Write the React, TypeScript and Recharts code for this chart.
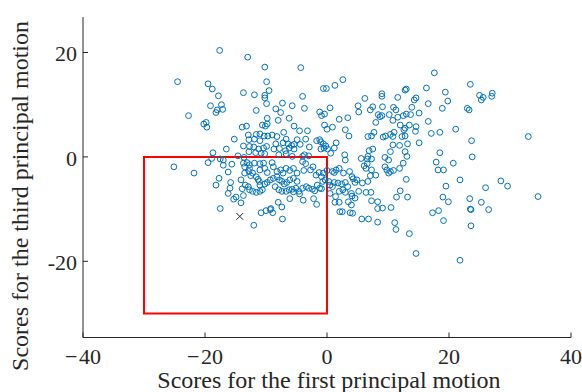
import React from 'react';
import { ScatterChart, Scatter, XAxis, YAxis, ReferenceArea, Label } from 'recharts';

const FONT = '"Liberation Serif", "Times New Roman", Times, serif';
const AXIS_COLOR = '#262626';
const POINT_COLOR = '#0072BD';

// Tick values and labels
const xTicks = [-40, -20, 0, 20, 40];
const xTickLabels = ['\u2212\u200A40', '\u2212\u200A20', '0', '20', '40'];
const yTicks = [-20, 0, 20];
const yTickLabels = ['-20', '0', '20'];

const xTitle = 'Scores for the first principal motion';
const yTitle = 'Scores for the third principal motion';

// Scores (upper half of the cloud)
const upperFirst = [
  -17.6, -13.0, -10.2, -4.3, 17.6, -24.5, -9.9, 2.6, 23.5, -19.5,
  -18.8, -9.5, -0.6, -0.1, 1.3, 16.3, 12.8, 13.0, -13.7, 19.4,
  9.0, 9.0, 27.1, 27.0, 25.0, 25.6, 25.3, -17.8, -11.9, -10.2,
  -10.2, -4.0, 6.2, 11.6, 14.3, 14.6, 19.8, 16.6, -17.3, -19.1,
  -17.1, -18.2, -18.0, -9.9, -7.3, -5.7, -8.4, -11.6, -3.7, 0.5,
  5.1, 5.2, 7.5, 7.1, 9.1, 10.9, 11.3, 18.9, 23.0, 23.3,
  13.9, -7.6, -1.2, -0.9, -0.4, -22.7, 8.4, 8.7, 9.0, 10.2,
  11.6, 12.5, 13.0, 13.7, 15.1, 10.8, -9.8, -6.2, 2.0, 3.4,
  16.6, 8.0, -8.0, -20.2, -19.8, -19.7, -10.6, -10.1, -9.8, -5.4,
  -0.4, 0.9, 0.0, 12.0, 13.5, 14.6, 12.8, -13.9, -13.2, 21.1,
  -7.1, 7.7, 18.5, 17.1, 11.0, 12.6, -4.5, -3.2, 3.0, 33.0,
  -12.9, -11.6, -11.0, -9.7, -8.2, -9.0, -10.3, 14.5, 3.6, 7.3,
  6.7, 9.2, 9.6, 10.4, 10.8, 12.8, 12.3, -15.2, -12.8, -11.9,
  -11.0, -6.7, -4.9, -3.5, -1.7, -1.2, -1.0, 1.5, 23.7, 15.1,
  13.2, -0.6, -0.2, -8.4, -7.2, -6.4, -5.8, -5.4, -4.4, -13.7,
  -12.7, -12.0, -11.2, -10.4, -9.9, -16.5, -8.7, -7.8, -6.8, -6.2,
  -5.4, -2.9, -1.0, -0.5, 0.1, 1.2, 10.8, 11.9, 7.5, 6.9,
  -12.8, -11.7, -10.8, -10.2, -18.7, 18.5, 10.4, 12.8, 0.6, 2.9,
  -7.9, -6.7, -5.7, -4.0, -3.7, -3.0, -14.6, -13.6, -17.0, -18.9,
  3.0, 5.6, 6.7, 6.6, 9.5, 10.1, 13.1, 23.8,
];
const upperThird = [
  20.4, 19.1, 17.2, 17.1, 16.1, 14.4, 14.4, 14.8, 13.9, 14.0,
  13.0, 12.7, 13.1, 13.1, 13.7, 13.2, 12.8, 13.0, 12.3, 12.4,
  12.1, 11.6, 12.2, 11.6, 11.8, 11.4, 10.9, 11.7, 11.9, 11.8,
  11.3, 11.6, 11.2, 11.4, 10.9, 11.3, 10.7, 10.2, 10.0, 9.8,
  9.1, 8.5, 9.0, 10.2, 10.3, 9.8, 9.2, 8.9, 9.3, 9.4,
  9.8, 8.6, 9.6, 9.0, 9.6, 9.5, 9.0, 9.3, 9.3, 9.0,
  9.5, 8.5, 8.6, 7.9, 8.2, 7.9, 8.1, 7.7, 7.9, 8.1,
  7.6, 7.9, 8.2, 8.1, 8.4, 7.0, 7.4, 7.4, 7.2, 7.5,
  6.8, 6.6, 7.0, 6.3, 6.6, 5.7, 6.1, 5.9, 6.3, 5.9,
  6.1, 5.7, 5.3, 6.1, 6.1, 5.8, 5.5, 5.7, 5.9, 5.3,
  4.7, 4.7, 4.7, 4.5, 4.7, 5.2, 5.0, 5.0, 5.2, 3.9,
  4.2, 4.3, 4.4, 4.0, 3.9, 4.2, 4.0, 4.9, 4.0, 4.0,
  3.9, 3.8, 4.0, 4.3, 3.9, 4.0, 3.9, 3.4, 3.3, 3.4,
  3.1, 3.4, 3.3, 3.4, 3.1, 3.3, 2.9, 2.7, 3.1, 2.7,
  2.5, 2.5, 2.1, 2.5, 2.7, 2.5, 2.2, 2.4, 2.4, 2.1,
  2.0, 1.9, 1.5, 1.7, 2.0, 1.5, 1.5, 1.6, 1.2, 1.7,
  1.5, 1.9, 1.5, 1.7, 1.5, 1.7, 2.3, 2.2, 1.5, 1.2,
  1.0, 0.8, 0.7, 0.6, 0.8, 0.8, 1.0, 1.0, 0.7, 0.4,
  0.4, 0.6, 0.1, 0.1, 0.4, 0.2, 0.2, -0.1, -0.6, -0.3,
  -0.6, -0.3, 0.1, -0.4, -0.1, -0.6, 0.1, 0.0,
];

// Scores (lower half of the cloud)
const lowerFirst = [
  -25.1, -21.8, -19.5, -17.5, -17.0, -15.6, -16.2, -18.2, -17.7, -15.8,
  -15.9, -16.2, -15.3, -14.9, -14.1, -17.5, -13.7, -13.9, -14.1, -13.5,
  -12.8, -12.5, -12.2, -11.6, -11.3, -11.1, -13.4, -12.9, -12.7, -12.2,
  -11.6, -11.0, -10.6, -11.0, -10.2, -9.8, -9.3, -8.8, -8.2, -7.8,
  -7.4, -7.0, -6.6, -6.1, -5.5, -4.9, -8.5, -7.9, -7.4, -6.7,
  -6.2, -5.7, -5.1, -4.6, -4.0, -3.4, -3.0, -2.4, -2.0, -1.6,
  -1.2, -0.7, -0.3, -0.6, 0.3, 0.5, -8.0, -7.4, -9.2, -9.3,
  -8.9, -10.8, -10.0, -7.3, -12.0, -6.1, -3.9, -2.2, -1.7, 2.0,
  2.6, 3.0, 4.0, 4.1, 4.6, 3.5, 4.0, 1.3, 2.0, 2.1,
  2.5, 3.8, 4.2, 5.7, 6.8, 8.3, 11.1, 11.3, 13.5, 14.6,
  21.8, 5.2, 6.4, 7.2, 7.3, 8.3, 8.3, 9.1, 10.5, 5.8,
  6.7, 7.1, 7.3, 8.0, 9.8, 10.1, 10.4, 10.9, 11.9, 12.5,
  13.0, 12.0, 11.4, 13.2, 17.3, 18.3, 19.1, 19.0, 19.9, 23.4,
  23.5, 23.6, 23.6, 25.3, 26.5, 34.6, 19.5, 21.8, 26.0, 28.5,
  29.6, 18.2, 19.1, 17.9, 20.7, 0.0, 0.9, 1.5, 1.2, 2.0,
  2.7, 3.7, 4.1, 4.3, 4.9, 4.6, 1.2, 1.8, 2.4, 3.0,
  3.4, 0.9, 0.5, 1.4, 6.4, 6.6, 6.1, 7.3, 9.5, -9.0,
  -8.8, -7.6, -8.2, -9.8, -7.2, -5.5, -4.0, -3.5, -3.8, -6.7,
  -6.1, -4.9, -1.8, -1.3, -0.9, -2.7, -2.3, -10.4, -10.2, -11.0,
  -13.7, -13.1, -12.7, -13.5, -12.7, -11.9, -11.0, -5.5, -4.5, -0.9,
];
const lowerThird = [
  -1.9, -3.1, -1.1, -0.4, -1.6, -1.4, -2.9, -5.4, -4.1, -4.9,
  -6.0, -7.0, -8.1, -7.7, -8.8, -9.9, -7.4, -6.1, -4.4, -3.1,
  -2.8, -3.6, -3.1, -3.8, -4.3, -4.7, -5.4, -5.7, -6.3, -6.6,
  -6.8, -6.6, -6.3, -5.4, -5.2, -4.9, -4.4, -4.1, -3.8, -4.4,
  -4.7, -5.2, -4.9, -4.4, -4.1, -4.7, -5.7, -6.3, -6.6, -6.6,
  -6.3, -6.2, -6.0, -6.6, -6.0, -5.7, -6.0, -6.2, -6.5, -5.4,
  -6.0, -4.7, -4.4, -3.1, -4.7, -5.4, -8.7, -9.6, -9.9, -10.1,
  -10.7, -10.7, -10.3, -11.9, -13.1, -8.0, -8.3, -8.0, -9.1, -6.6,
  -6.3, -6.8, -7.0, -7.5, -7.9, -8.6, -9.2, -8.7, -8.7, -10.5,
  -10.5, -10.7, -10.8, -11.9, -11.9, -12.5, -12.6, -13.9, -14.7, -18.5,
  -19.8, -6.6, -6.8, -6.8, -8.4, -8.6, -9.9, -9.8, -9.7, -5.0,
  -4.7, -3.6, -2.5, -3.5, -2.5, -3.1, -2.8, -2.6, -2.2, -1.2,
  -4.3, -6.5, -7.7, -7.7, -10.7, -10.3, -12.2, -7.7, -8.6, -8.0,
  -10.0, -10.1, -13.2, -8.7, -10.1, -7.6, -5.6, -4.4, -5.9, -4.6,
  -5.6, -2.5, -2.5, -1.0, -1.2, -2.6, -2.8, -2.5, -3.0, -2.2,
  -3.1, -2.8, -3.8, -4.2, -4.4, -4.9, -4.9, -5.0, -5.2, -4.9,
  -5.7, -5.7, -7.0, -7.6, -2.2, -1.3, -1.7, -0.4, -1.9, -1.1,
  -1.9, -2.5, -2.8, -3.0, -3.1, -2.2, -0.9, -1.3, -2.6, -2.2,
  -2.6, -3.1, -3.5, -3.0, -3.8, -2.5, -1.9, -1.2, -2.2, -2.5,
  -1.2, -1.1, -1.5, -1.9, -2.2, -1.2, -1.3, -6.7, -7.1, -6.1,
];

// Highlighted sample (black cross)
const markFirst = [-14.3];
const markThird = [-11.4];

// Red box corners
const boxFirst = [-30, 0];
const boxThird = [-30, 0];

const zip = (xs: number[], ys: number[]) => xs.map((x, i) => ({ x, y: ys[i] }));
const scores = [...zip(upperFirst, upperThird), ...zip(lowerFirst, lowerThird)];
const marks = zip(markFirst, markThird);

const Circle = (p: any) => (
  <circle cx={p.cx} cy={p.cy} r={2.9} fill="none" stroke={POINT_COLOR} strokeWidth={1} />
);

const Cross = (p: any) => {
  const s = 3.3;
  return (
    <path
      d={`M${p.cx - s},${p.cy - s}L${p.cx + s},${p.cy + s}M${p.cx + s},${p.cy - s}L${p.cx - s},${p.cy + s}`}
      stroke="#222"
      strokeWidth={1}
      fill="none"
    />
  );
};

const XTick = (props: any) => {
  const { x, y, payload } = props;
  const i = xTicks.indexOf(payload.value);
  return (
    <g>
      <line x1={x} y1={y} x2={x} y2={y - 5} stroke={AXIS_COLOR} strokeWidth={1} />
      <text x={x} y={y + 26} textAnchor="middle" fontSize={22} fontFamily={FONT} fill={AXIS_COLOR}>
        {i >= 0 ? xTickLabels[i] : String(payload.value)}
      </text>
    </g>
  );
};

const YTick = (props: any) => {
  const { x, y, payload } = props;
  const i = yTicks.indexOf(payload.value);
  return (
    <g>
      <line x1={x} y1={y} x2={x + 5} y2={y} stroke={AXIS_COLOR} strokeWidth={1} />
      <text x={x - 6} y={y + 9} textAnchor="end" fontSize={22} fontFamily={FONT} fill={AXIS_COLOR}>
        {i >= 0 ? yTickLabels[i] : String(payload.value)}
      </text>
    </g>
  );
};

export default function App() {
  return (
    <div style={{ position: 'absolute', left: 0, top: 0, width: 582, height: 392, background: '#fff' }}>
      <ScatterChart width={582} height={392} margin={{ top: 17, right: 11, bottom: 0, left: 0 }}>
        <XAxis
          type="number"
          dataKey="x"
          domain={[-40, 40]}
          ticks={xTicks}
          allowDataOverflow
          height={54.5}
          tickSize={0}
          tickMargin={0}
          tickLine={false}
          tick={<XTick />}
          axisLine={{ stroke: AXIS_COLOR, strokeWidth: 1 }}
        >
          <Label
            content={() => (
              <text x={329} y={388} textAnchor="middle" fontSize={24} fontFamily={FONT} fill={AXIS_COLOR}>
                {xTitle}
              </text>
            )}
          />
        </XAxis>
        <YAxis
          type="number"
          dataKey="y"
          domain={[-34.6, 26.8]}
          ticks={yTicks}
          allowDataOverflow
          width={83}
          tickSize={0}
          tickMargin={0}
          tickLine={false}
          tick={<YTick />}
          axisLine={{ stroke: AXIS_COLOR, strokeWidth: 1 }}
        >
          <Label
            content={() => (
              <text
                x={28}
                y={196}
                transform="rotate(-90, 28, 196)"
                textAnchor="middle"
                fontSize={24}
                fontFamily={FONT}
                fill={AXIS_COLOR}
              >
                {yTitle}
              </text>
            )}
          />
        </YAxis>
        <Scatter data={scores} shape={<Circle />} isAnimationActive={false} />
        <Scatter data={marks} shape={<Cross />} isAnimationActive={false} />
        <ReferenceArea
          x1={boxFirst[0]}
          x2={boxFirst[1]}
          y1={boxThird[0]}
          y2={boxThird[1]}
          fill="none"
          fillOpacity={0}
          stroke="#FF0000"
          strokeWidth={2}
          ifOverflow="visible"
        />
      </ScatterChart>
    </div>
  );
}
